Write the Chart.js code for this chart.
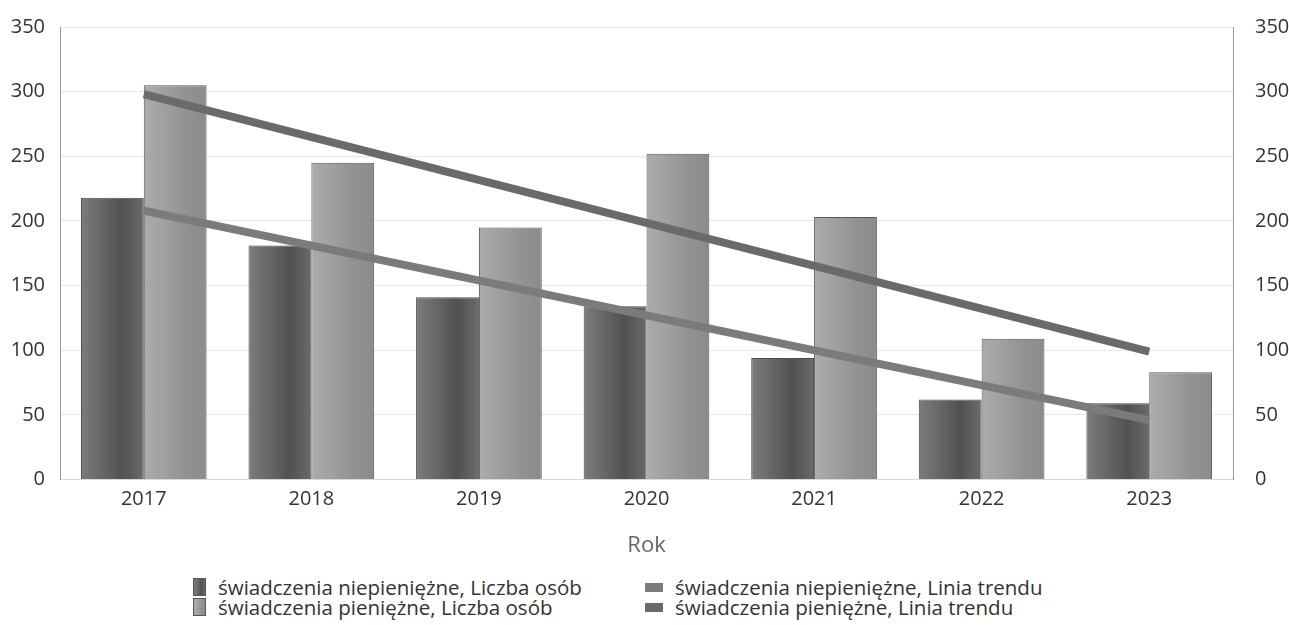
<!DOCTYPE html>
<html lang="pl">
<head>
<meta charset="UTF-8">
<title>Świadczenia - liczba osób</title>
<style>
    body {
        margin: 0;
        background: #fff;
        font-family: 'Open Sans', sans-serif;
    }
    #wrap {
        position: relative;
        width: 1289px;
        height: 625px;
    }
    #chartBox {
        position: absolute;
        left: 0;
        top: 0;
        width: 1289px;
        height: 559px;
    }
    #legenda {
        position: absolute;
        left: 193px;
        top: 577px;
        display: grid;
        grid-template-columns: 452px 420px;
        font-size: 20.5px;
        color: #333;
    }
    .poz {
        display: flex;
        align-items: center;
        height: 20px;
        white-space: nowrap;
    }
    .znak {
        display: inline-block;
        margin-right: 12px;
    }
    .znak.slupek {
        width: 11px;
        height: 16px;
        border: 1px solid #555;
    }
    .znak.linia {
        width: 18px;
        height: 9px;
        margin-right: 12px;
    }
</style>
</head>
<body>
<div id="wrap">
    <div id="chartBox"><canvas id="wykres"></canvas></div>
    <div id="legenda"></div>
</div>

<script src="https://cdn.jsdelivr.net/npm/chart.js"></script>
<script>
// lata
const lata = ['2017', '2018', '2019', '2020', '2021', '2022', '2023'];

// liczba osób
const niepieniezne = [218, 181, 141, 134, 94, 62, 59];
const pieniezne = [305, 245, 195, 252, 203, 109, 83];

// linie trendu - tylko punkty końcowe
const trendNiepieniezne = [208, null, null, null, null, null, 46];
const trendPieniezne = [298, null, null, null, null, null, 99];

const osY = [0, 50, 100, 150, 200, 250, 300, 350];

// gradient "walca" dla słupków
function gradientSlupka(ctx, x0, x1, kolory) {
    const g = ctx.createLinearGradient(x0, 0, x1, 0);
    g.addColorStop(0, kolory[0]);
    g.addColorStop(0.25, kolory[1]);
    g.addColorStop(0.65, kolory[2]);
    g.addColorStop(1, kolory[3]);
    return g;
}

const cieniowanie = {
    id: 'cieniowanie',
    beforeDatasetsDraw(chart) {
        const ctx = chart.ctx;
        chart.data.datasets.forEach((ds, i) => {
            if (!ds.walec) return;
            const meta = chart.getDatasetMeta(i);
            meta.data.forEach(el => {
                const x0 = el.x - el.width / 2;
                const x1 = el.x + el.width / 2;
                el.options.backgroundColor = gradientSlupka(ctx, x0, x1, ds.walec);
            });
        });
    }
};

const czcionka = { family: 'Open Sans', size: 20 };

const ctx = document.getElementById('wykres').getContext('2d');
const wykres = new Chart(ctx, {
    type: 'bar',
    data: {
        labels: lata,
        datasets: [
            {
                label: 'świadczenia niepieniężne, Liczba osób',
                data: niepieniezne,
                backgroundColor: () => '#5e5e5e',
                walec: ['#7c7c7c', '#6c6c6c', '#515151', '#6a6a6a'],
                borderColor: '#4a4a4a',
                borderWidth: 1,
                order: 2,
                yAxisID: 'y'
            },
            {
                label: 'świadczenia pieniężne, Liczba osób',
                data: pieniezne,
                backgroundColor: () => '#999999',
                walec: ['#ababab', '#a3a3a3', '#939393', '#8b8b8b'],
                borderColor: '#5a5a5a',
                borderWidth: 1,
                order: 2,
                yAxisID: 'y'
            },
            {
                type: 'line',
                label: 'świadczenia niepieniężne, Linia trendu',
                data: trendNiepieniezne,
                borderColor: '#7b7b7b',
                backgroundColor: '#7b7b7b',
                borderWidth: 8,
                pointRadius: 0,
                spanGaps: true,
                borderCapStyle: 'butt',
                order: 0,
                yAxisID: 'y'
            },
            {
                type: 'line',
                label: 'świadczenia pieniężne, Linia trendu',
                data: trendPieniezne,
                borderColor: '#6a6a6a',
                backgroundColor: '#6a6a6a',
                borderWidth: 8,
                pointRadius: 0,
                spanGaps: true,
                borderCapStyle: 'butt',
                order: 1,
                yAxisID: 'y'
            }
        ]
    },
    options: {
        responsive: true,
        maintainAspectRatio: false,
        animation: false,
        layout: {
            padding: { top: 18, bottom: 0, left: 0, right: 0 }
        },
        datasets: {
            bar: {
                categoryPercentage: 0.75,
                barPercentage: 1.0
            }
        },
        scales: {
            x: {
                grid: { display: false },
                border: { color: '#d8d8d8', width: 1 },
                ticks: {
                    color: '#333',
                    font: czcionka,
                    padding: 0
                },
                title: {
                    display: true,
                    text: 'Rok',
                    color: '#666',
                    font: { family: 'Open Sans', size: 22 },
                    padding: { top: 21, bottom: 0 }
                }
            },
            y: {
                position: 'left',
                min: 0,
                max: 350,
                afterBuildTicks(scale) {
                    scale.ticks = osY.map(v => ({ value: v }));
                },
                afterFit(scale) { scale.width = 60; },
                grid: { color: '#e8e8e8', drawTicks: false },
                border: { color: '#999', width: 1 },
                ticks: {
                    color: '#333',
                    font: czcionka,
                    padding: 15
                }
            },
            y2: {
                position: 'right',
                min: 0,
                max: 350,
                afterBuildTicks(scale) {
                    scale.ticks = osY.map(v => ({ value: v }));
                },
                afterFit(scale) { scale.width = 56; },
                grid: { display: false },
                border: { color: '#999', width: 1 },
                ticks: {
                    color: '#333',
                    font: czcionka,
                    padding: 14
                }
            }
        },
        plugins: {
            legend: { display: false },
            tooltip: { enabled: false }
        }
    },
    plugins: [cieniowanie]
});

// legenda w dwóch kolumnach (jak w oryginale)
const legenda = document.getElementById('legenda');
const kolejnosc = [0, 2, 1, 3];
kolejnosc.forEach(i => {
    const ds = wykres.data.datasets[i];
    const poz = document.createElement('div');
    poz.className = 'poz';
    const znak = document.createElement('span');
    if (ds.type === 'line') {
        znak.className = 'znak linia';
        znak.style.background = ds.borderColor;
    } else {
        znak.className = 'znak slupek';
        znak.style.background = 'linear-gradient(to right, ' + ds.walec.join(', ') + ')';
    }
    poz.appendChild(znak);
    poz.appendChild(document.createTextNode(ds.label));
    legenda.appendChild(poz);
});
</script>
</body>
</html>
